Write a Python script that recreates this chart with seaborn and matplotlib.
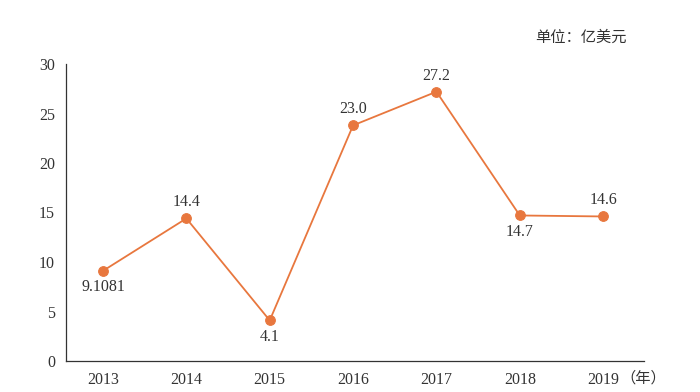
import matplotlib
matplotlib.use("Agg")
import matplotlib.pyplot as plt
import seaborn as sns
import pandas as pd

years = ["2013", "2014", "2015", "2016", "2017", "2018", "2019"]
values = [9.1081, 14.4, 4.1, 23.8, 27.2, 14.7, 14.6]
labels = ["9.1081", "14.4", "4.1", "23.0", "27.2", "14.7", "14.6"]
label_pos = ["below", "above", "below", "above", "above", "below", "above"]
yticks = [0, 5, 10, 15, 20, 25, 30]

sns.set_style("white")
plt.rcParams["font.family"] = ["Liberation Serif", "Noto Sans CJK SC"]
plt.rcParams["axes.unicode_minus"] = False

color = "#E8773E"
text_color = "#333333"

df = pd.DataFrame({"year": years, "value": values})
df["x"] = range(len(years))

fig = plt.figure(figsize=(7, 3.92), dpi=100)
ax = fig.add_axes([66/700, 1-361/392, (644-66)/700, (361-64)/392])
sns.lineplot(data=df, x="x", y="value", ax=ax, color=color, linewidth=1.3,
             marker="o", markersize=7, markeredgecolor=color, markerfacecolor=color)

for i, (v, lab, pos) in enumerate(zip(values, labels, label_pos)):
    dy = 11.5 if pos == "above" else -12
    ax.annotate(lab, (i, v), xytext=(0, dy), textcoords="offset points",
                ha="center", va="center", fontsize=11.5, color=text_color)

ax.set_xlim(-0.444, 6.49)
ax.set_ylim(0, 30)
ax.set_yticks(yticks)
ax.set_yticklabels([str(t) for t in yticks], fontsize=11.5, color=text_color)
ax.set_xticks(range(len(years)))
ax.set_xticklabels(years, fontsize=11.5, color=text_color)
ax.set_xlabel("")
ax.set_ylabel("")
for s in ["top", "right"]:
    ax.spines[s].set_visible(False)
for s in ["left", "bottom"]:
    ax.spines[s].set_color("#333333")
    ax.spines[s].set_linewidth(0.9)
ax.tick_params(axis="y", direction="out", length=4, width=0.9, color="#333333", pad=4)
ax.tick_params(axis="x", direction="in", length=4, width=0.9, color="#333333", pad=8)

fig.text(535/700, 1-37/392, "单位：亿美元", fontsize=11, color=text_color,
         ha="left", va="center", family=["Noto Sans CJK SC"])
fig.text(620/700, 1-378/392, "（年）", fontsize=11, color=text_color,
         ha="left", va="center", family=["Noto Sans CJK SC"])

fig.savefig("out.png", dpi=100)
